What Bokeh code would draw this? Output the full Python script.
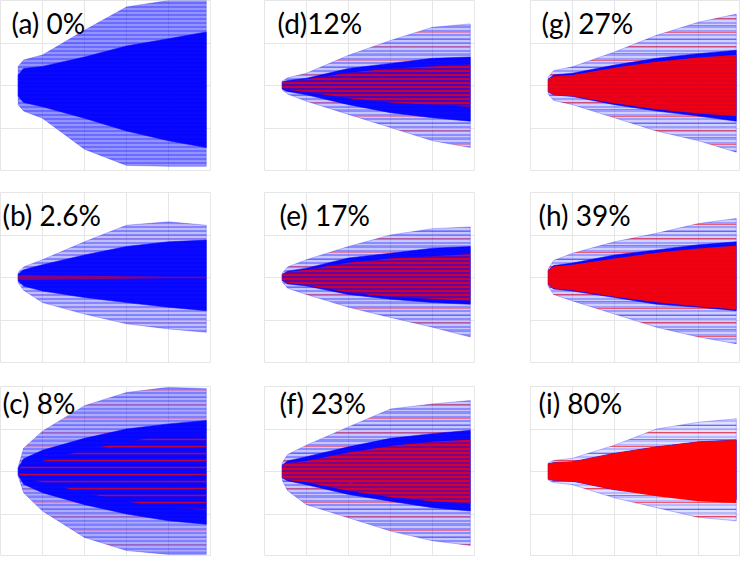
from bokeh.plotting import figure
from bokeh.layouts import column, row
from bokeh.models import Label, FixedTicker
from bokeh.embed import file_html
from bokeh.resources import INLINE

# ---- data (row-major panel order: a d g / b e h / c f i) ----
labels = ["(a) 0%", "(d)12%", "(g) 27%",
          "(b) 2.6%", "(e) 17%", "(h) 39%",
          "(c) 8%", "(f) 23%", "(i) 80%"]

# sample positions along the time axis (grid cells)
X = [0.42, 0.55, 1, 2, 3, 4, 4.9]

outer_top = [
    [0.45, 0.6, 0.72, 1.3, 1.85, 2.0, 2.0],
    [0.1, 0.18, 0.29, 0.71, 1.06, 1.37, 1.45],
    [0.2, 0.35, 0.44, 0.79, 1.18, 1.49, 1.68],
    [0.12, 0.25, 0.42, 0.84, 1.23, 1.31, 1.23],
    [0.1, 0.25, 0.42, 0.73, 1.0, 1.15, 1.19],
    [0.2, 0.4, 0.57, 0.84, 1.04, 1.27, 1.39],
    [0.1, 0.55, 0.95, 1.55, 1.86, 1.98, 1.95],
    [0.2, 0.4, 0.62, 1.05, 1.47, 1.59, 1.67],
    [0.2, 0.26, 0.31, 0.62, 1.0, 1.16, 1.24],
]
outer_bot = [
    [-0.45, -0.6, -0.77, -1.5, -1.88, -1.9, -1.9],
    [-0.1, -0.2, -0.37, -0.68, -0.99, -1.3, -1.46],
    [-0.2, -0.35, -0.45, -0.76, -1.07, -1.3, -1.57],
    [-0.12, -0.3, -0.59, -0.86, -1.09, -1.21, -1.29],
    [-0.1, -0.25, -0.4, -0.7, -0.94, -1.17, -1.4],
    [-0.2, -0.4, -0.55, -0.86, -1.17, -1.4, -1.56],
    [-0.1, -0.5, -0.93, -1.55, -1.86, -1.95, -1.95],
    [-0.2, -0.45, -0.78, -1.09, -1.4, -1.63, -1.74],
    [-0.2, -0.26, -0.31, -0.62, -0.85, -1.08, -1.16],
]
core_top = [
    [0.25, 0.4, 0.45, 0.67, 0.93, 1.1, 1.26],
    [0.08, 0.12, 0.17, 0.4, 0.52, 0.64, 0.67],
    [0.15, 0.25, 0.29, 0.48, 0.64, 0.75, 0.83],
    [0.08, 0.18, 0.3, 0.53, 0.73, 0.84, 0.88],
    [0.07, 0.15, 0.22, 0.46, 0.57, 0.69, 0.73],
    [0.17, 0.28, 0.34, 0.53, 0.65, 0.77, 0.84],
    [0.08, 0.3, 0.5, 0.78, 1.0, 1.12, 1.2],
    [0.15, 0.25, 0.35, 0.58, 0.78, 0.89, 0.97],
    [0.18, 0.21, 0.23, 0.43, 0.58, 0.7, 0.74],
]
core_bot = [
    [-0.25, -0.4, -0.5, -0.77, -1.07, -1.3, -1.46],
    [-0.08, -0.14, -0.22, -0.45, -0.64, -0.76, -0.84],
    [-0.15, -0.22, -0.26, -0.45, -0.6, -0.72, -0.84],
    [-0.08, -0.2, -0.32, -0.47, -0.59, -0.7, -0.78],
    [-0.07, -0.15, -0.2, -0.4, -0.51, -0.59, -0.63],
    [-0.17, -0.27, -0.32, -0.47, -0.63, -0.7, -0.78],
    [-0.08, -0.3, -0.5, -0.78, -1.0, -1.16, -1.24],
    [-0.15, -0.22, -0.31, -0.54, -0.7, -0.85, -0.93],
    [-0.18, -0.21, -0.23, -0.43, -0.54, -0.62, -0.66],
]
# half-height of the red (second population) core
red_half = [
    [0, 0, 0, 0, 0, 0, 0],
    [0.07, 0.1, 0.15, 0.3, 0.4, 0.45, 0.5],
    [0.15, 0.22, 0.25, 0.42, 0.56, 0.66, 0.72],
    [0.05, 0.06, 0.05, 0.04, 0.03, 0.02, 0.02],
    [0.07, 0.13, 0.18, 0.35, 0.45, 0.5, 0.55],
    [0.17, 0.26, 0.3, 0.45, 0.58, 0.68, 0.75],
    [0.06, 0.15, 0.25, 0.5, 0.7, 0.85, 0.9],
    [0.15, 0.2, 0.25, 0.45, 0.6, 0.7, 0.75],
    [0.18, 0.21, 0.23, 0.43, 0.58, 0.7, 0.74],
]

# ---- styles ----
red_fill_alpha = [0, 0.25, 0.88, 0.5, 0.35, 0.92, 0.0, 0.45, 1.0]
red_hatch_alpha = [0, 0.9, 0.6, 0.0, 0.9, 0.4, 0.75, 0.9, 0.0]
red_hatch_scale = [6, 4, 4, 6, 4, 4, 7, 4, 4]
red_fringe_alpha = [0, 0.3, 0.5, 0.08, 0.35, 0.55, 0.2, 0.4, 0.6]
blue_fringe_fill = [0.42, 0.22, 0.18, 0.25, 0.22, 0.18, 0.32, 0.22, 0.12]
blue_fringe_alpha = [0.55, 0.6, 0.5, 0.6, 0.6, 0.5, 0.55, 0.6, 0.35]
title_dx = [11, 13, 11, 2, 15, 8, 2, 15, 8]
title_dy = [5, 5, 5, 5, 5, 5, -1, -1, -1]
GRID = "#e6e6e6"
BLUE = "#0000ff"
RED = "#ff0000"

FW, FH = 210, 170
RB = [54, 56, 0]
BB = [22, 24, 0]


def band(top, bot):
    return X + X[::-1], list(top) + list(bot)[::-1]


figs = []
for i, lab in enumerate(labels):
    r, c = divmod(i, 3)
    p = figure(width=FW + RB[c], height=FH + BB[r], x_range=(0, 5), y_range=(-2, 2),
               output_backend="svg", toolbar_location=None,
               min_border_left=0, min_border_top=0,
               min_border_right=RB[c], min_border_bottom=BB[r])
    p.axis.visible = False
    p.xgrid.ticker = FixedTicker(ticks=[1, 2, 3, 4])
    p.ygrid.ticker = FixedTicker(ticks=[-1, 0, 1])
    p.grid.grid_line_color = GRID
    p.outline_line_color = GRID
    p.background_fill_color = "white"
    p.border_fill_color = "white"

    # sparse fringe of trajectories
    xs, ys = band(outer_top[i], outer_bot[i])
    p.patch(xs, ys, fill_color=BLUE, fill_alpha=blue_fringe_fill[i],
            hatch_pattern="horizontal_line", hatch_color=BLUE,
            hatch_alpha=blue_fringe_alpha[i], hatch_scale=4, hatch_weight=1,
            line_color=BLUE, line_alpha=0.25, line_width=1)
    if red_fringe_alpha[i] > 0:
        p.patch(xs, ys, fill_alpha=0, hatch_pattern="horizontal_line",
                hatch_color=RED, hatch_alpha=red_fringe_alpha[i], hatch_scale=7,
                hatch_weight=1, line_color=None)
    # dense core
    xs, ys = band(core_top[i], core_bot[i])
    p.patch(xs, ys, fill_color=BLUE, fill_alpha=0.95, line_color=BLUE, line_alpha=0.5)
    rh = red_half[i]
    if red_fill_alpha[i] > 0 or red_hatch_alpha[i] > 0:
        xs, ys = band(rh, [-v for v in rh])
        p.patch(xs, ys, fill_color=RED, fill_alpha=red_fill_alpha[i],
                hatch_pattern="horizontal_line", hatch_color=RED,
                hatch_alpha=red_hatch_alpha[i], hatch_scale=red_hatch_scale[i],
                hatch_weight=1.5, line_color=None)

    p.add_layout(Label(x=title_dx[i] / (FW / 5), y=2 - title_dy[i] / (FH / 4), text=lab,
                       text_font="Lato", text_font_size="28px", text_baseline="top",
                       text_color="black"))
    figs.append(p)

layout = column(row(*figs[0:3]), row(*figs[3:6]), row(*figs[6:9]))
open("out.html", "w").write(file_html(layout, INLINE))
